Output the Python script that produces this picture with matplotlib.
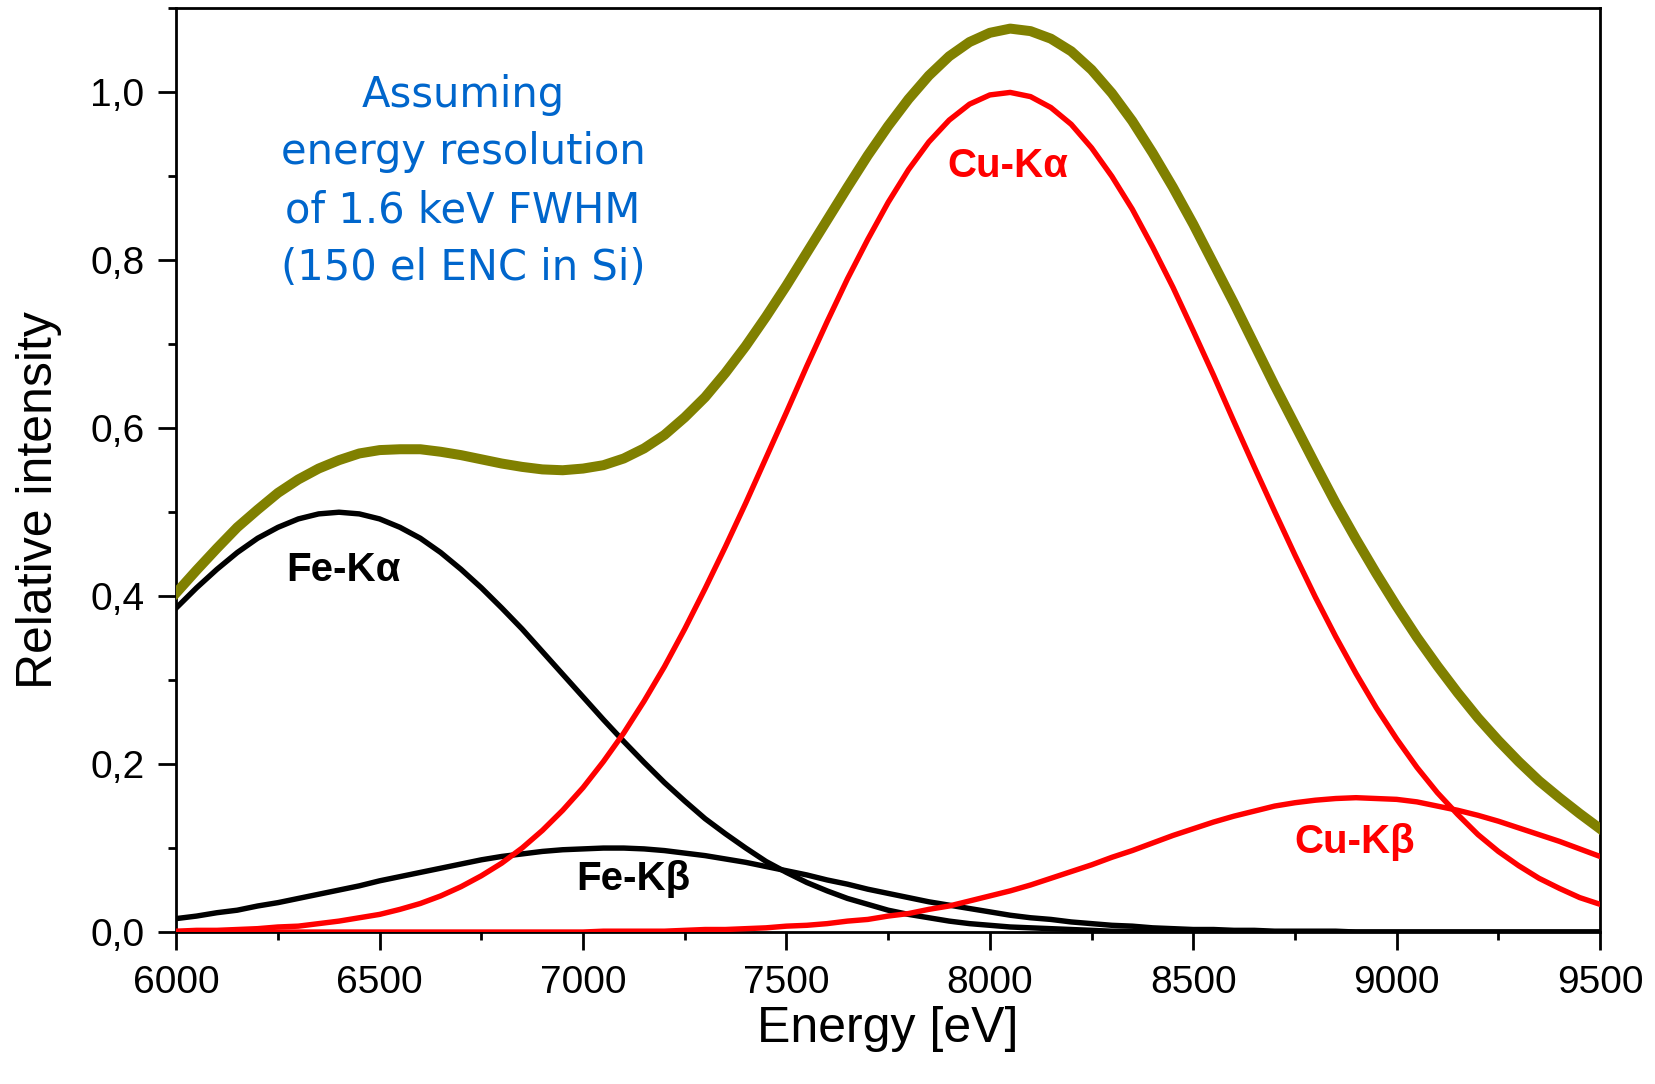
import matplotlib
matplotlib.use("Agg")
import matplotlib.pyplot as plt
from matplotlib.ticker import MultipleLocator, FuncFormatter

# energy grid [eV] and relative intensities
energy = list(range(6000, 9501, 50))

fe_ka = [0.386, 0.410, 0.432, 0.452, 0.469, 0.482, 0.492, 0.498, 0.500, 0.498,
         0.492, 0.482, 0.469, 0.452, 0.432, 0.410, 0.386, 0.361, 0.334, 0.307,
         0.280, 0.253, 0.227, 0.202, 0.178, 0.156, 0.135, 0.117, 0.100, 0.084,
         0.071, 0.059, 0.049, 0.040, 0.033, 0.026, 0.021, 0.017, 0.013, 0.010,
         0.008, 0.006, 0.005, 0.004, 0.003, 0.002, 0.001, 0.001, 0.001, 0.001,
         0.000, 0.000, 0.000, 0.000, 0.000, 0.000, 0.000, 0.000, 0.000, 0.000,
         0.000, 0.000, 0.000, 0.000, 0.000, 0.000, 0.000, 0.000, 0.000, 0.000,
         0.000]
fe_kb = [0.016, 0.019, 0.023, 0.026, 0.031, 0.035, 0.040, 0.045, 0.050, 0.055,
         0.061, 0.066, 0.071, 0.076, 0.081, 0.086, 0.090, 0.093, 0.096, 0.098,
         0.099, 0.100, 0.100, 0.099, 0.097, 0.094, 0.091, 0.087, 0.083, 0.078,
         0.073, 0.068, 0.062, 0.057, 0.051, 0.046, 0.041, 0.036, 0.032, 0.028,
         0.024, 0.020, 0.017, 0.015, 0.012, 0.010, 0.008, 0.007, 0.005, 0.004,
         0.003, 0.003, 0.002, 0.002, 0.001, 0.001, 0.001, 0.001, 0.000, 0.000,
         0.000, 0.000, 0.000, 0.000, 0.000, 0.000, 0.000, 0.000, 0.000, 0.000,
         0.000]
cu_ka = [0.001, 0.002, 0.002, 0.003, 0.004, 0.006, 0.007, 0.010, 0.013, 0.017,
         0.021, 0.027, 0.034, 0.043, 0.054, 0.067, 0.082, 0.100, 0.121, 0.145,
         0.172, 0.203, 0.237, 0.275, 0.316, 0.361, 0.409, 0.459, 0.511, 0.565,
         0.619, 0.674, 0.727, 0.778, 0.825, 0.869, 0.908, 0.941, 0.967, 0.986,
         0.997, 1.000, 0.995, 0.982, 0.962, 0.934, 0.900, 0.861, 0.816, 0.768,
         0.716, 0.663, 0.608, 0.554, 0.501, 0.449, 0.399, 0.352, 0.308, 0.267,
         0.230, 0.196, 0.166, 0.140, 0.116, 0.096, 0.079, 0.064, 0.052, 0.041,
         0.033]
cu_kb = [0.000, 0.000, 0.000, 0.000, 0.000, 0.000, 0.000, 0.000, 0.000, 0.000,
         0.000, 0.000, 0.000, 0.000, 0.000, 0.000, 0.000, 0.000, 0.000, 0.000,
         0.000, 0.001, 0.001, 0.001, 0.001, 0.002, 0.003, 0.003, 0.004, 0.005,
         0.007, 0.008, 0.010, 0.013, 0.015, 0.019, 0.022, 0.027, 0.031, 0.037,
         0.043, 0.049, 0.056, 0.064, 0.072, 0.080, 0.089, 0.097, 0.106, 0.115,
         0.123, 0.131, 0.138, 0.144, 0.150, 0.154, 0.157, 0.159, 0.160, 0.159,
         0.158, 0.155, 0.150, 0.145, 0.139, 0.132, 0.124, 0.116, 0.108, 0.099,
         0.090]
total = [0.404, 0.431, 0.457, 0.482, 0.503, 0.523, 0.539, 0.552, 0.562, 0.570,
         0.574, 0.575, 0.575, 0.572, 0.568, 0.563, 0.558, 0.554, 0.551, 0.550,
         0.552, 0.556, 0.564, 0.576, 0.592, 0.613, 0.637, 0.666, 0.698, 0.733,
         0.770, 0.809, 0.848, 0.887, 0.925, 0.960, 0.992, 1.020, 1.043, 1.060,
         1.071, 1.076, 1.073, 1.064, 1.049, 1.027, 0.999, 0.966, 0.928, 0.887,
         0.843, 0.796, 0.749, 0.700, 0.651, 0.604, 0.557, 0.511, 0.468, 0.427,
         0.388, 0.351, 0.317, 0.285, 0.255, 0.228, 0.203, 0.180, 0.160, 0.141,
         0.123]

fig = plt.figure(figsize=(16.55, 10.84), dpi=100)
ax = fig.add_axes([0.1065, 0.1402, 0.8603, 0.8520])

ax.plot(energy, fe_ka, color="black", lw=3.9, zorder=2)
ax.plot(energy, fe_kb, color="black", lw=3.9, zorder=2)
ax.plot(energy, cu_ka, color="#ff0000", lw=3.9, zorder=3)
ax.plot(energy, cu_kb, color="#ff0000", lw=3.9, zorder=3)
ax.plot(energy, total, color="#808000", lw=7.2, zorder=4)

ax.set_xlim(6000, 9500)
ax.set_ylim(0, 1.1)

ax.xaxis.set_major_locator(MultipleLocator(500))
ax.xaxis.set_minor_locator(MultipleLocator(250))
ax.yaxis.set_major_locator(MultipleLocator(0.2))
ax.yaxis.set_minor_locator(MultipleLocator(0.1))
ax.yaxis.set_major_formatter(FuncFormatter(lambda v, p: f"{v:.1f}".replace(".", ",")))

ax.tick_params(which="major", direction="out", length=13, width=2, pad=10)
ax.tick_params(which="minor", direction="out", length=6, width=2)
ax.tick_params(axis="x", which="major", pad=11)
for lab in ax.get_xticklabels() + ax.get_yticklabels():
    lab.set_fontfamily("Liberation Sans")
    lab.set_fontsize(28)
for sp in ax.spines.values():
    sp.set_linewidth(2)

ax.set_xlabel("Energy [eV]", fontsize=36, family="Liberation Sans")
ax.set_ylabel("Relative intensity", fontsize=36, family="Liberation Sans")
ax.xaxis.set_label_coords(0.5, -0.0805)
ax.yaxis.set_label_coords(-0.080, 0.468)

ax.text(6705, 0.894, "Assuming\nenergy resolution\nof 1.6 keV FWHM\n(150 el ENC in Si)",
        color="#0066cc", fontsize=30, family="DejaVu Sans", ha="center", va="center",
        linespacing=1.48)

lab_kw = dict(fontsize=29, fontweight="bold", family="Liberation Sans", ha="center", va="center")
ax.text(6410, 0.431, "Fe-K\u03b1", color="black", **lab_kw)
ax.text(7123, 0.063, "Fe-K\u03b2", color="black", **lab_kw)
ax.text(8045, 0.912, "Cu-K\u03b1", color="#ff0000", **lab_kw)
ax.text(8896, 0.107, "Cu-K\u03b2", color="#ff0000", **lab_kw)

fig.savefig("out.png", dpi=100)
